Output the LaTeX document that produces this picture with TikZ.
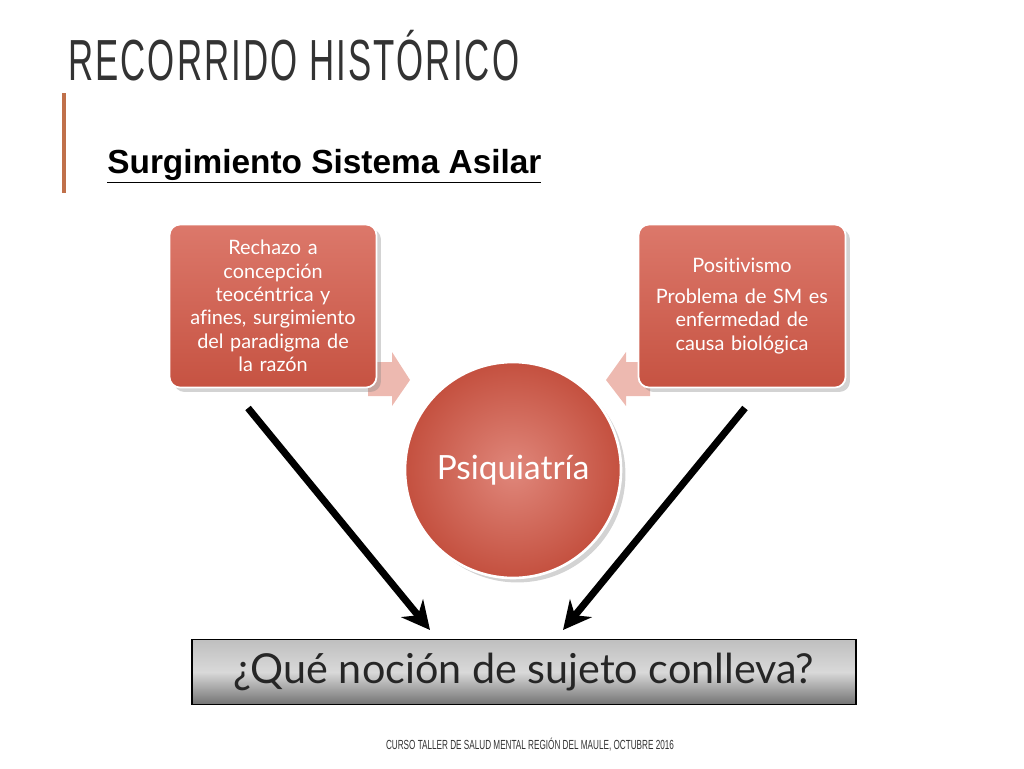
\documentclass[tikz,border=0pt]{standalone}
\usepackage{fontspec}
\setmainfont{Lato}[Ligatures={NoCommon}]
\newfontfamily\arialfont{Liberation Sans}[LetterSpace=6]
\newfontfamily\arialplain{Liberation Sans}
\usetikzlibrary{positioning,arrows.meta,shadows}
\hyphenpenalty=10000
\definecolor{boxred}{HTML}{D8695A}
\definecolor{boxdark}{HTML}{C4503F}
\definecolor{barcol}{HTML}{C0704A}
\definecolor{palearrow}{HTML}{EDB9B0}
\tikzset{
  redbox/.style={draw=white, line width=1pt, rounded corners=6pt, top color=boxred!90!white, bottom color=boxdark!90!boxred,
    minimum width=207*0.02cm, minimum height=163*0.02cm, text width=195*0.02cm, align=center,
    text=white, font=\fontsize{11.3}{13.3}\selectfont, drop shadow={opacity=0.35}},
  palearr/.style={fill=palearrow, draw=none},
  bigarr/.style={line width=4pt, -{Stealth[length=16pt,width=16pt]}},
}
\begin{document}
\begin{tikzpicture}[x=0.02cm, y=-0.02cm]
  \useasboundingbox (0,0) rectangle (1024,768);
  % title and header
  \node[anchor=base west, inner sep=0, text=black!80, font=\arialfont\fontsize{33}{33}\selectfont, xscale=0.6] (title) at (68,80) {RECORRIDO HISTÓRICO};
  \draw[barcol, line width=2.5pt] (64,93) -- (64,193);
  \node[anchor=base west, inner sep=0, font=\arialplain\bfseries\fontsize{19}{19}\selectfont] (sub) at (107,173) {\underline{Surgimiento Sistema Asilar}};
  % pale connector arrows
  \fill[palearr] (368,362) -- (392,362) -- (392,352) -- (410,380) -- (392,406) -- (392,396) -- (368,396) -- cycle;
  \fill[palearr] (650,362) -- (626,362) -- (626,352) -- (606,380) -- (626,406) -- (626,396) -- (650,396) -- cycle;
  % circle
  \node[circle, draw=white, line width=1.5pt, minimum size=216*0.02cm, inner color=boxred!80!white, outer color=boxdark,
    text=white, font=\fontsize{19}{19}\selectfont, drop shadow={opacity=0.35}] (psiq) at (513,470) {Psiquiatría};
  % boxes
  \node[redbox] (left) at (273,306) {Rechazo a\\ concepción\\ teocéntrica y\\ afines, surgimiento\\ del paradigma de\\ la razón};
  \node[redbox] (right) at (742,306) {Positivismo\\[4pt] Problema de SM es\\ enfermedad de\\ causa biológica};
  % question
  \node[draw=black, line width=0.8pt, minimum width=664*0.02cm, minimum height=65*0.02cm, top color=black!25, bottom color=black!55,
    middle color=black!15, font=\fontsize{23.5}{23.5}\selectfont, text=black!85] (quest) at (524,672) {¿Qué noción de sujeto conlleva?};
  \coordinate (lstart) at (248,408);
  \coordinate (rstart) at (745,408);
  \draw[bigarr] (lstart) -- (430,630);
  \draw[bigarr] (rstart) -- (563,630);
  % footer
  \node[font=\arialplain\fontsize{7.5}{7.5}\selectfont, xscale=0.62, text=black!80] (foot) at (530,745) {CURSO TALLER DE SALUD MENTAL REGIÓN DEL MAULE, OCTUBRE 2016};
\end{tikzpicture}
\end{document}
